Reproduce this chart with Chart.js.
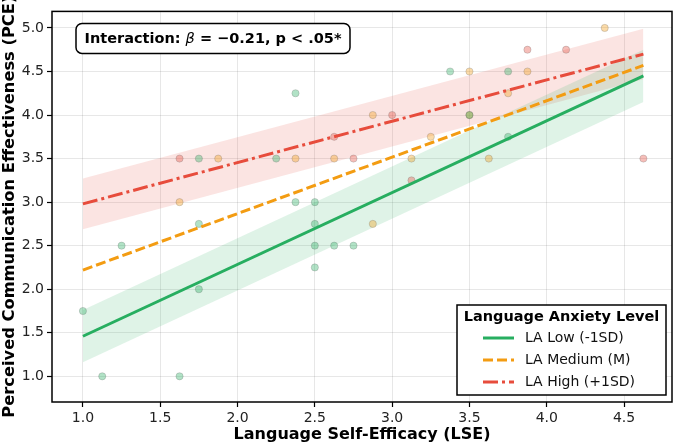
<!DOCTYPE html>
<html>
<head>
<meta charset="utf-8">
<script src="https://cdn.jsdelivr.net/npm/chart.js@4.4.1/dist/chart.umd.min.js"></script>
<style>
  html, body { margin: 0; padding: 0; background: #fff; }
  #wrap { width: 677px; height: 447px; }
</style>
</head>
<body>
<div id="wrap"><canvas id="chart" width="677" height="447"></canvas></div>
<script>
// ---- valores ----
const xTicks = [1.0, 1.5, 2.0, 2.5, 3.0, 3.5, 4.0, 4.5];
const yTicks = [1.0, 1.5, 2.0, 2.5, 3.0, 3.5, 4.0, 4.5, 5.0];

// retas ajustadas (extremos em LSE = 1.0 e 4.625) e faixas de confiança
const fitX = [1.0, 4.625];
const lowFit = [1.46, 4.45];
const lowUpper = [1.76, 4.75];
const lowLower = [1.16, 4.15];
const medFit = [2.22, 4.57];
const highFit = [2.98, 4.70];
const highUpper = [3.27, 4.99];
const highLower = [2.69, 4.41];

// pontos observados por grupo
const lowX = [2.375, 1.75, 2.25, 2.375, 2.5, 1.75, 1.25, 2.5, 2.5, 2.625, 2.75, 2.5, 1.75, 1.0, 1.125, 1.625, 3.375, 3.75, 3.5, 3.75];
const lowY = [4.25, 3.5, 3.5, 3.0, 3.0, 2.75, 2.5, 2.75, 2.5, 2.5, 2.5, 2.25, 2.0, 1.75, 1.0, 1.0, 4.5, 4.5, 4.0, 3.75];
const medX = [1.875, 2.375, 2.625, 1.625, 2.875, 2.875, 3.25, 3.125, 4.375, 3.5, 3.875, 3.75, 3.5, 3.625];
const medY = [3.5, 3.5, 3.5, 3.0, 2.75, 4.0, 3.75, 3.5, 5.0, 4.5, 4.5, 4.25, 4.0, 3.5];
const highX = [2.625, 1.625, 2.75, 3.0, 3.125, 3.875, 4.125, 4.625];
const highY = [3.75, 3.5, 3.5, 4.0, 3.25, 4.75, 4.75, 3.5];

const GREEN = '#27ae60', ORANGE = '#f39c12', RED = '#e74c3c';
const FONT = "'DejaVu Sans', sans-serif";

const pts = (xs, ys) => xs.map((x, i) => ({ x, y: ys[i] }));
const rgba = (hex, a) => {
  const n = parseInt(hex.slice(1), 16);
  return `rgba(${n >> 16}, ${(n >> 8) & 255}, ${n & 255}, ${a})`;
};

function fitLine(label, ys, color, dash) {
  return {
    label, data: pts(fitX, ys), borderColor: color, borderWidth: 3,
    borderDash: dash, pointRadius: 0, fill: false, tension: 0, isFit: true
  };
}
function band(ys, color, fillTarget) {
  return {
    data: pts(fitX, ys), borderWidth: 0, pointRadius: 0, tension: 0,
    backgroundColor: rgba(color, 0.15), fill: fillTarget
  };
}
function scatter(xs, ys, color) {
  return {
    data: pts(xs, ys), showLine: false, pointRadius: 3.6, borderWidth: 0.8,
    backgroundColor: rgba(color, 0.36), borderColor: 'rgba(90, 90, 90, 0.3)'
  };
}

/** Moldura, anotação e legenda desenhadas sobre a área do gráfico */
const overlay = {
  id: 'overlay',
  afterDraw(chart) {
    const { ctx, chartArea: a } = chart;
    ctx.save();
    ctx.strokeStyle = '#000';
    ctx.lineWidth = 1.5;
    ctx.strokeRect(a.left, a.top, a.right - a.left, a.bottom - a.top);

    // caixa de anotação
    const bx = a.left + 24, by = a.top + 12, bw = 274, bh = 30;
    ctx.beginPath();
    ctx.roundRect(bx, by, bw, bh, 6);
    ctx.fillStyle = '#fff';
    ctx.fill();
    ctx.lineWidth = 1.5;
    ctx.stroke();
    const parts = [
      ['Interaction: ', `bold 14.5px ${FONT}`],
      ['\u03B2', `italic 14.5px ${FONT}`],
      [' = \u22120.21, p < .05*', `bold 14.5px ${FONT}`]
    ];
    let total = 0;
    parts.forEach(([t, f]) => { ctx.font = f; total += ctx.measureText(t).width; });
    let tx = bx + (bw - total) / 2;
    ctx.fillStyle = '#000';
    ctx.textBaseline = 'middle';
    parts.forEach(([t, f]) => {
      ctx.font = f;
      ctx.fillText(t, tx, by + bh / 2 + 1);
      tx += ctx.measureText(t).width;
    });

    // legenda
    const lw = 209, lh = 90;
    const lx = a.right - 6 - lw, ly = a.bottom - 7 - lh;
    ctx.fillStyle = '#fff';
    ctx.fillRect(lx, ly, lw, lh);
    ctx.lineWidth = 1.5;
    ctx.strokeRect(lx, ly, lw, lh);
    ctx.font = `bold 14.5px ${FONT}`;
    ctx.textAlign = 'center';
    ctx.fillStyle = '#000';
    ctx.fillText('Language Anxiety Level', lx + lw / 2, ly + 12);
    ctx.textAlign = 'left';
    ctx.font = `14px ${FONT}`;
    const fits = chart.data.datasets.filter(d => d.isFit);
    fits.forEach((d, i) => {
      const yy = ly + 33 + i * 22;
      ctx.beginPath();
      ctx.setLineDash(d.borderDash || []);
      ctx.strokeStyle = d.borderColor;
      ctx.lineWidth = 3;
      ctx.moveTo(lx + 26, yy);
      ctx.lineTo(lx + 57, yy);
      ctx.stroke();
      ctx.setLineDash([]);
      ctx.fillStyle = '#111';
      ctx.fillText(d.label, lx + 68, yy);
    });
    ctx.restore();
  }
};

const gridStyle = {
  color: 'rgba(0, 0, 0, 0.12)', lineWidth: 0.8, borderDash: [2, 2],
  drawTicks: true, tickLength: 5, tickColor: '#000', tickWidth: 1.2, tickBorderDash: []
};

new Chart(document.getElementById('chart').getContext('2d'), {
  type: 'line',
  data: {
    datasets: [
      fitLine('LA Low (-1SD)', lowFit, GREEN, []),
      fitLine('LA Medium (M)', medFit, ORANGE, [10, 4]),
      fitLine('LA High (+1SD)', highFit, RED, [15, 4, 3, 4]),
      scatter(lowX, lowY, GREEN),
      scatter(medX, medY, ORANGE),
      scatter(highX, highY, RED),
      band(lowUpper, GREEN, '+1'),
      band(lowLower, GREEN, false),
      band(highUpper, RED, '+1'),
      band(highLower, RED, false)
    ]
  },
  options: {
    responsive: false,
    animation: false,
    layout: { padding: { left: 0, right: 5, top: 7, bottom: 0 } },
    plugins: {
      legend: { display: false },
      tooltip: { enabled: false },
      filler: { drawTime: 'beforeDatasetsDraw' }
    },
    scales: {
      x: {
        type: 'linear', min: 0.8, max: 4.81,
        afterBuildTicks: s => { s.ticks = xTicks.map(v => ({ value: v })); },
        afterFit: s => { s.height = 45; },
        grid: gridStyle,
        border: { display: false },
        ticks: { color: '#222', font: { family: FONT, size: 14 }, padding: 3, callback: v => v.toFixed(1) },
        title: {
          display: true, text: 'Language Self-Efficacy (LSE)', color: '#000',
          font: { family: FONT, size: 16, weight: 'bold' }, padding: { top: 0, bottom: 3 }
        }
      },
      y: {
        type: 'linear', min: 0.705, max: 5.19,
        afterBuildTicks: s => { s.ticks = yTicks.map(v => ({ value: v })); },
        afterFit: s => { s.width = 52; },
        grid: gridStyle,
        border: { display: false },
        ticks: { color: '#222', font: { family: FONT, size: 14 }, padding: 3, callback: v => v.toFixed(1) },
        title: {
          display: true, text: 'Perceived Communication Effectiveness (PCE)', color: '#000',
          font: { family: FONT, size: 16.3, weight: 'bold' }, padding: { top: 0, bottom: 0 }
        }
      }
    }
  },
  plugins: [overlay]
});
</script>
</body>
</html>
